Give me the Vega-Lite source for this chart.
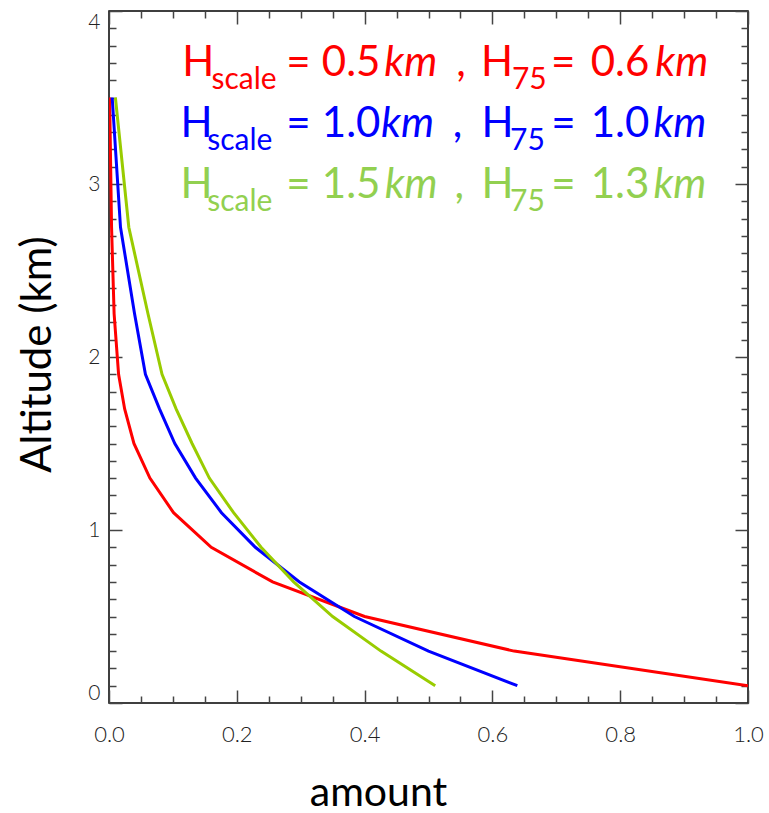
{
  "$schema": "https://vega.github.io/schema/vega-lite/v6.json",
  "width": 639,
  "height": 692,
  "autosize": {"type": "none"},
  "padding": {"left": 109, "top": 11, "right": 21, "bottom": 110},
  "background": "white",
  "config": {
    "view": {"stroke": "#000000", "strokeWidth": 1.5},
    "axis": {"grid": false, "domain": false}
  },
  "datasets": {
    "profiles": [
      {"series": "H0.5", "alt": 0.1, "amount": 1.0},
      {"series": "H0.5", "alt": 0.3, "amount": 0.634},
      {"series": "H0.5", "alt": 0.5, "amount": 0.40},
      {"series": "H0.5", "alt": 0.7, "amount": 0.256},
      {"series": "H0.5", "alt": 0.9, "amount": 0.160},
      {"series": "H0.5", "alt": 1.1, "amount": 0.101},
      {"series": "H0.5", "alt": 1.3, "amount": 0.064},
      {"series": "H0.5", "alt": 1.5, "amount": 0.039},
      {"series": "H0.5", "alt": 1.7, "amount": 0.0245},
      {"series": "H0.5", "alt": 1.9, "amount": 0.015},
      {"series": "H0.5", "alt": 2.25, "amount": 0.008},
      {"series": "H0.5", "alt": 2.75, "amount": 0.004},
      {"series": "H0.5", "alt": 3.5, "amount": 0.001},
      {"series": "H1.0", "alt": 0.1, "amount": 0.639},
      {"series": "H1.0", "alt": 0.3, "amount": 0.50},
      {"series": "H1.0", "alt": 0.5, "amount": 0.384},
      {"series": "H1.0", "alt": 0.7, "amount": 0.298},
      {"series": "H1.0", "alt": 0.9, "amount": 0.229},
      {"series": "H1.0", "alt": 1.1, "amount": 0.176},
      {"series": "H1.0", "alt": 1.3, "amount": 0.1355},
      {"series": "H1.0", "alt": 1.5, "amount": 0.103},
      {"series": "H1.0", "alt": 1.7, "amount": 0.079},
      {"series": "H1.0", "alt": 1.9, "amount": 0.057},
      {"series": "H1.0", "alt": 2.25, "amount": 0.040},
      {"series": "H1.0", "alt": 2.75, "amount": 0.018},
      {"series": "H1.0", "alt": 3.5, "amount": 0.005},
      {"series": "H1.5", "alt": 0.1, "amount": 0.5105},
      {"series": "H1.5", "alt": 0.3, "amount": 0.4256},
      {"series": "H1.5", "alt": 0.5, "amount": 0.350},
      {"series": "H1.5", "alt": 0.7, "amount": 0.289},
      {"series": "H1.5", "alt": 0.9, "amount": 0.238},
      {"series": "H1.5", "alt": 1.1, "amount": 0.195},
      {"series": "H1.5", "alt": 1.3, "amount": 0.157},
      {"series": "H1.5", "alt": 1.5, "amount": 0.130},
      {"series": "H1.5", "alt": 1.7, "amount": 0.105},
      {"series": "H1.5", "alt": 1.9, "amount": 0.083},
      {"series": "H1.5", "alt": 2.25, "amount": 0.061},
      {"series": "H1.5", "alt": 2.75, "amount": 0.031},
      {"series": "H1.5", "alt": 3.5, "amount": 0.010}
    ],
    "labels": [
      {"series": "H0.5", "kind": "big", "t": "H", "amount": 0.1145, "alt": 3.622},
      {"series": "H0.5", "kind": "sub", "t": "scale", "amount": 0.1605, "alt": 3.547},
      {"series": "H0.5", "kind": "big", "t": "=", "amount": 0.2772, "alt": 3.622},
      {"series": "H0.5", "kind": "big", "t": "0.5", "amount": 0.3331, "alt": 3.622},
      {"series": "H0.5", "kind": "ital", "t": "km", "amount": 0.4308, "alt": 3.622},
      {"series": "H0.5", "kind": "big", "t": ",", "amount": 0.5433, "alt": 3.622},
      {"series": "H0.5", "kind": "big", "t": "H", "amount": 0.5823, "alt": 3.622},
      {"series": "H0.5", "kind": "sub", "t": "75", "amount": 0.6305, "alt": 3.547},
      {"series": "H0.5", "kind": "big", "t": "=", "amount": 0.6917, "alt": 3.622},
      {"series": "H0.5", "kind": "big", "t": "0.6", "amount": 0.7539, "alt": 3.622},
      {"series": "H0.5", "kind": "ital", "t": "km", "amount": 0.8548, "alt": 3.622},
      {"series": "H1.0", "kind": "big", "t": "H", "amount": 0.1117, "alt": 3.269},
      {"series": "H1.0", "kind": "sub", "t": "scale", "amount": 0.1538, "alt": 3.194},
      {"series": "H1.0", "kind": "big", "t": "=", "amount": 0.2772, "alt": 3.269},
      {"series": "H1.0", "kind": "big", "t": "1.0", "amount": 0.3331, "alt": 3.269},
      {"series": "H1.0", "kind": "ital", "t": "km", "amount": 0.4258, "alt": 3.269},
      {"series": "H1.0", "kind": "big", "t": ",", "amount": 0.538, "alt": 3.269},
      {"series": "H1.0", "kind": "big", "t": "H", "amount": 0.5828, "alt": 3.269},
      {"series": "H1.0", "kind": "sub", "t": "75", "amount": 0.6277, "alt": 3.194},
      {"series": "H1.0", "kind": "big", "t": "=", "amount": 0.6922, "alt": 3.269},
      {"series": "H1.0", "kind": "big", "t": "1.0", "amount": 0.7539, "alt": 3.269},
      {"series": "H1.0", "kind": "ital", "t": "km", "amount": 0.852, "alt": 3.269},
      {"series": "H1.5", "kind": "big", "t": "H", "amount": 0.1117, "alt": 2.917},
      {"series": "H1.5", "kind": "sub", "t": "scale", "amount": 0.1538, "alt": 2.842},
      {"series": "H1.5", "kind": "big", "t": "=", "amount": 0.2772, "alt": 2.917},
      {"series": "H1.5", "kind": "big", "t": "1.5", "amount": 0.3331, "alt": 2.917},
      {"series": "H1.5", "kind": "ital", "t": "km", "amount": 0.4314, "alt": 2.917},
      {"series": "H1.5", "kind": "big", "t": ",", "amount": 0.5408, "alt": 2.917},
      {"series": "H1.5", "kind": "big", "t": "H", "amount": 0.5828, "alt": 2.917},
      {"series": "H1.5", "kind": "sub", "t": "75", "amount": 0.6277, "alt": 2.842},
      {"series": "H1.5", "kind": "big", "t": "=", "amount": 0.6922, "alt": 2.917},
      {"series": "H1.5", "kind": "big", "t": "1.3", "amount": 0.7539, "alt": 2.917},
      {"series": "H1.5", "kind": "ital", "t": "km", "amount": 0.852, "alt": 2.917}
    ]
  },
  "resolve": {"axis": {"x": "independent", "y": "independent"}, "scale": {"color": "independent"}},
  "layer": [
    {
      "data": {"name": "profiles"},
      "mark": {"type": "line", "strokeWidth": 3, "clip": true},
      "encoding": {
        "x": {"field": "amount", "type": "quantitative", "scale": {"domain": [0, 1], "nice": false, "zero": false},
          "axis": {"orient": "bottom", "values": [0, 0.2, 0.4, 0.6, 0.8, 1.0], "format": ".1f", "ticks": false, "labelFlush": false,
            "labelFont": "Lato", "labelFontWeight": 300, "labelFontSize": 22, "labelColor": "#222222", "labelPadding": 21,
            "title": "amount", "titleFont": "Lato", "titleFontSize": 41, "titleFontWeight": "normal", "titleColor": "#000000",
            "titleX": 269, "titleY": 102, "titleBaseline": "alphabetic", "titleAlign": "center"}},
        "y": {"field": "alt", "type": "quantitative", "scale": {"domain": [0, 4], "nice": false, "zero": false},
          "axis": {"orient": "left", "values": [0, 1, 2, 3, 4], "format": "d", "ticks": false, "labelFlush": true,
            "labelFont": "Lato", "labelFontWeight": 300, "labelFontSize": 21, "labelColor": "#222222", "labelPadding": 9,
            "title": "Altitude (km)", "titleFont": "Lato", "titleFontSize": 42, "titleFontWeight": "normal", "titleColor": "#000000",
            "titleX": -59, "titleY": 343, "titleAngle": 270, "titleBaseline": "alphabetic", "titleAlign": "center"}},
        "order": {"field": "alt", "type": "quantitative"},
        "color": {"field": "series", "type": "nominal", "legend": null,
          "scale": {"domain": ["H0.5", "H1.0", "H1.5"], "range": ["#ff0000", "#0000ff", "#99cc00"]}}
      }
    },
    {
      "data": {"name": "profiles"},
      "mark": {"type": "line", "strokeOpacity": 0},
      "encoding": {
        "x": {"field": "amount", "type": "quantitative", "scale": {"domain": [0, 1], "nice": false, "zero": false},
          "axis": {"orient": "bottom", "values": [0, 0.2, 0.4, 0.6, 0.8, 1.0], "labels": false, "tickSize": -13, "tickWidth": 1.5, "tickColor": "#444444", "title": null}},
        "y": {"field": "alt", "type": "quantitative", "scale": {"domain": [0, 4], "nice": false, "zero": false},
          "axis": {"orient": "left", "values": [0, 1, 2, 3, 4], "labels": false, "tickSize": -13, "tickWidth": 1.5, "tickColor": "#444444", "title": null}},
        "order": {"field": "alt", "type": "quantitative"},
        "detail": {"field": "series"}
      }
    },
    {
      "data": {"name": "profiles"},
      "mark": {"type": "line", "strokeOpacity": 0},
      "encoding": {
        "x": {"field": "amount", "type": "quantitative", "scale": {"domain": [0, 1], "nice": false, "zero": false},
          "axis": {"orient": "bottom", "values": [0.05, 0.1, 0.15, 0.25, 0.3, 0.35, 0.45, 0.5, 0.55, 0.65, 0.7, 0.75, 0.85, 0.9, 0.95], "labels": false, "tickSize": -7, "tickWidth": 1.5, "tickColor": "#444444", "title": null}},
        "y": {"field": "alt", "type": "quantitative", "scale": {"domain": [0, 4], "nice": false, "zero": false},
          "axis": {"orient": "left", "values": [0.1, 0.2, 0.3, 0.4, 0.5, 0.6, 0.7, 0.8, 0.9, 1.1, 1.2, 1.3, 1.4, 1.5, 1.6, 1.7, 1.8, 1.9, 2.1, 2.2, 2.3, 2.4, 2.5, 2.6, 2.7, 2.8, 2.9, 3.1, 3.2, 3.3, 3.4, 3.5, 3.6, 3.7, 3.8, 3.9], "labels": false, "tickSize": -7, "tickWidth": 1.5, "tickColor": "#444444", "title": null}},
        "order": {"field": "alt", "type": "quantitative"},
        "detail": {"field": "series"}
      }
    },
    {
      "data": {"name": "profiles"},
      "mark": {"type": "line", "strokeOpacity": 0},
      "encoding": {
        "x": {"field": "amount", "type": "quantitative", "scale": {"domain": [0, 1], "nice": false, "zero": false},
          "axis": {"orient": "top", "values": [0, 0.2, 0.4, 0.6, 0.8, 1.0], "labels": false, "tickSize": -13, "tickWidth": 1.5, "tickColor": "#444444", "title": null}},
        "y": {"field": "alt", "type": "quantitative", "scale": {"domain": [0, 4], "nice": false, "zero": false},
          "axis": {"orient": "right", "values": [0, 1, 2, 3, 4], "labels": false, "tickSize": -13, "tickWidth": 1.5, "tickColor": "#444444", "title": null}},
        "order": {"field": "alt", "type": "quantitative"},
        "detail": {"field": "series"}
      }
    },
    {
      "data": {"name": "profiles"},
      "mark": {"type": "line", "strokeOpacity": 0},
      "encoding": {
        "x": {"field": "amount", "type": "quantitative", "scale": {"domain": [0, 1], "nice": false, "zero": false},
          "axis": {"orient": "top", "values": [0.05, 0.1, 0.15, 0.25, 0.3, 0.35, 0.45, 0.5, 0.55, 0.65, 0.7, 0.75, 0.85, 0.9, 0.95], "labels": false, "tickSize": -7, "tickWidth": 1.5, "tickColor": "#444444", "title": null}},
        "y": {"field": "alt", "type": "quantitative", "scale": {"domain": [0, 4], "nice": false, "zero": false},
          "axis": {"orient": "right", "values": [0.1, 0.2, 0.3, 0.4, 0.5, 0.6, 0.7, 0.8, 0.9, 1.1, 1.2, 1.3, 1.4, 1.5, 1.6, 1.7, 1.8, 1.9, 2.1, 2.2, 2.3, 2.4, 2.5, 2.6, 2.7, 2.8, 2.9, 3.1, 3.2, 3.3, 3.4, 3.5, 3.6, 3.7, 3.8, 3.9], "labels": false, "tickSize": -7, "tickWidth": 1.5, "tickColor": "#444444", "title": null}},
        "order": {"field": "alt", "type": "quantitative"},
        "detail": {"field": "series"}
      }
    },
    {
      "data": {"name": "labels"},
      "transform": [{"filter": "datum.kind === 'big'"}],
      "mark": {"type": "text", "align": "left", "baseline": "alphabetic", "font": "Lato", "fontSize": 42},
      "encoding": {
        "x": {"field": "amount", "type": "quantitative", "axis": null, "scale": {"domain": [0, 1], "nice": false, "zero": false}},
        "y": {"field": "alt", "type": "quantitative", "axis": null, "scale": {"domain": [0, 4], "nice": false, "zero": false}},
        "text": {"field": "t"},
        "color": {"field": "series", "type": "nominal", "legend": null,
          "scale": {"domain": ["H0.5", "H1.0", "H1.5"], "range": ["#ff0000", "#0000ff", "#92d050"]}}
      }
    },
    {
      "data": {"name": "labels"},
      "transform": [{"filter": "datum.kind === 'ital'"}],
      "mark": {"type": "text", "align": "left", "baseline": "alphabetic", "font": "Lato", "fontStyle": "italic", "fontSize": 42},
      "encoding": {
        "x": {"field": "amount", "type": "quantitative", "axis": null, "scale": {"domain": [0, 1], "nice": false, "zero": false}},
        "y": {"field": "alt", "type": "quantitative", "axis": null, "scale": {"domain": [0, 4], "nice": false, "zero": false}},
        "text": {"field": "t"},
        "color": {"field": "series", "type": "nominal", "legend": null,
          "scale": {"domain": ["H0.5", "H1.0", "H1.5"], "range": ["#ff0000", "#0000ff", "#92d050"]}}
      }
    },
    {
      "data": {"name": "labels"},
      "transform": [{"filter": "datum.kind === 'sub'"}],
      "mark": {"type": "text", "align": "left", "baseline": "alphabetic", "font": "Lato", "fontSize": 30},
      "encoding": {
        "x": {"field": "amount", "type": "quantitative", "axis": null, "scale": {"domain": [0, 1], "nice": false, "zero": false}},
        "y": {"field": "alt", "type": "quantitative", "axis": null, "scale": {"domain": [0, 4], "nice": false, "zero": false}},
        "text": {"field": "t"},
        "color": {"field": "series", "type": "nominal", "legend": null,
          "scale": {"domain": ["H0.5", "H1.0", "H1.5"], "range": ["#ff0000", "#0000ff", "#92d050"]}}
      }
    }
  ]
}
